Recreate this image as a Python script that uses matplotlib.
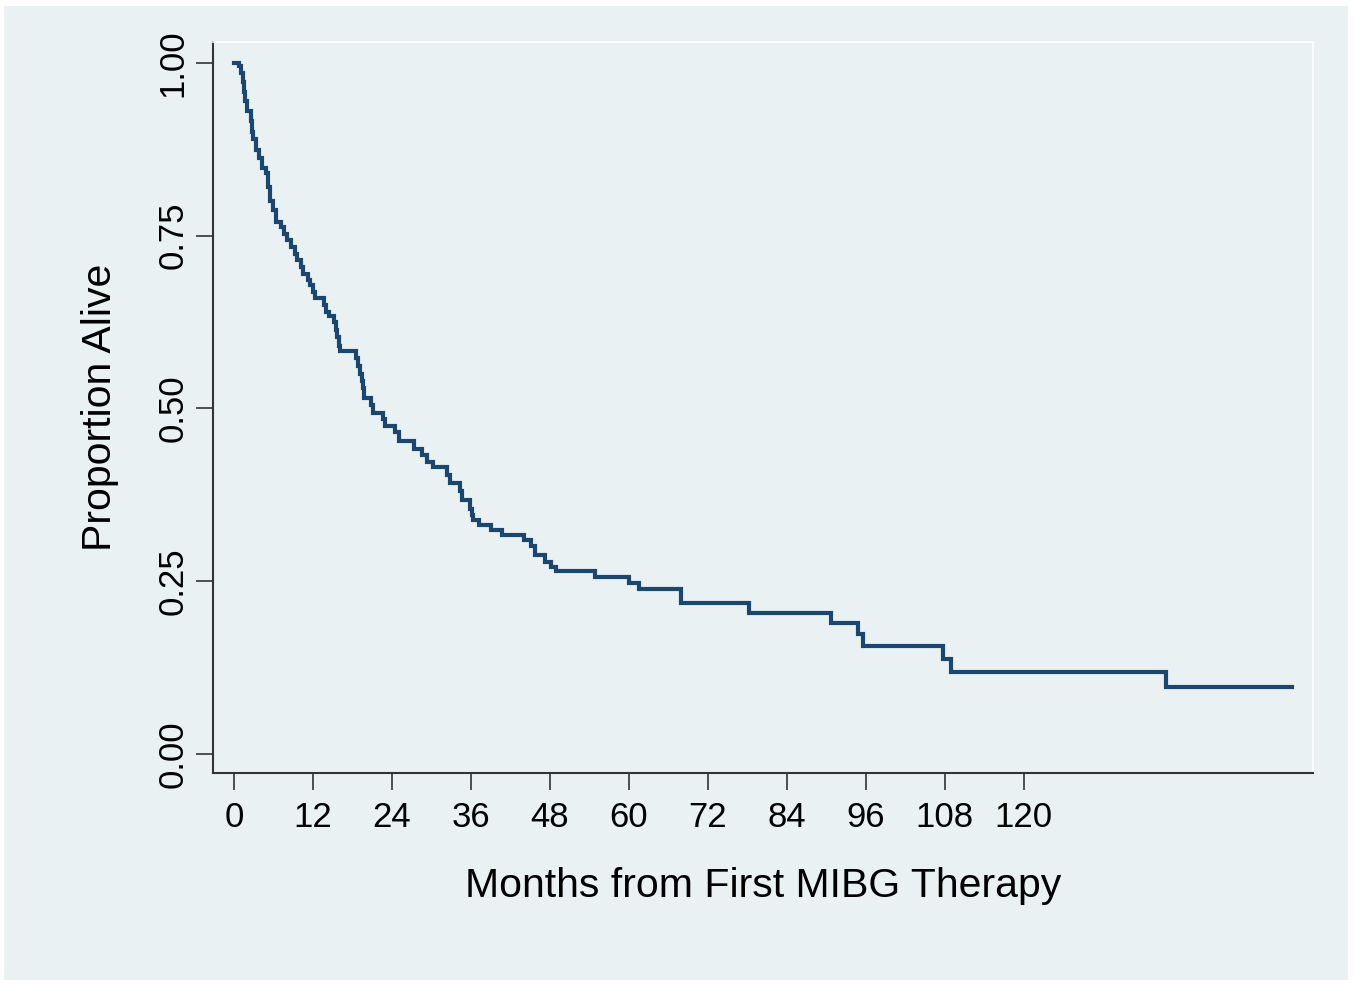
"""
Kaplan-Meier survival curve after first MIBG therapy (Stata s2color look).
"""

import matplotlib
matplotlib.use("Agg")
import matplotlib.pyplot as plt
from matplotlib.patches import Rectangle

# step times (months) and survival after each step
event_months = [0.0, 0.8, 1.1, 1.3, 1.5, 1.7, 1.9, 2.5, 2.7, 2.9, 3.3, 3.8, 4.3,
                4.8, 5.2, 5.4, 5.9, 6.4, 7.2, 7.6, 8.0, 8.6, 9.2, 9.5, 10.2,
                10.5, 11.2, 11.5, 12.0, 12.3, 13.6, 14.0, 14.4, 15.2, 15.5,
                15.7, 15.9, 16.1, 18.5, 18.8, 19.1, 19.4, 19.6, 19.8, 20.8,
                21.1, 22.6, 23.0, 24.5, 25.0, 27.3, 28.6, 29.3, 30.2, 32.4,
                32.8, 34.4, 34.6, 35.9, 36.1, 36.3, 37.2, 39.1, 40.8, 44.0,
                45.2, 45.8, 47.3, 48.2, 48.9, 54.9, 60.0, 61.5, 68.0, 78.3,
                90.7, 94.8, 95.6, 107.7, 108.9, 141.7, 160.8]
surv = [1.0, 0.995, 0.985, 0.972, 0.958, 0.944, 0.93, 0.915, 0.9, 0.889, 0.874,
        0.862, 0.848, 0.84, 0.82, 0.80, 0.787, 0.77, 0.763, 0.752, 0.744,
        0.734, 0.724, 0.714, 0.705, 0.694, 0.685, 0.678, 0.668, 0.66, 0.65,
        0.64, 0.633, 0.625, 0.614, 0.603, 0.59, 0.583, 0.573, 0.562, 0.55,
        0.54, 0.53, 0.515, 0.505, 0.494, 0.485, 0.475, 0.466, 0.453, 0.441,
        0.433, 0.422, 0.415, 0.404, 0.392, 0.38, 0.367, 0.355, 0.346, 0.338,
        0.331, 0.324, 0.317, 0.31, 0.301, 0.288, 0.278, 0.271, 0.264, 0.256,
        0.248, 0.239, 0.218, 0.204, 0.19, 0.174, 0.156, 0.137, 0.118, 0.097,
        0.097]

x_ticks = [0, 12, 24, 36, 48, 60, 72, 84, 96, 108, 120]
y_ticks = [0.0, 0.25, 0.5, 0.75, 1.0]
y_tick_labels = ["0.00", "0.25", "0.50", "0.75", "1.00"]

bg = "#e9f1f3"
line_col = "#1a476f"

plt.rcParams["font.family"] = ["Liberation Sans", "DejaVu Sans"]

fig = plt.figure(figsize=(13.55, 9.84), dpi=100, facecolor="white")
fig.patches.append(Rectangle((4 / 1355, 4 / 984), 1344 / 1355, 974 / 984,
                             transform=fig.transFigure, facecolor=bg,
                             edgecolor="none", zorder=-10))
ax = fig.add_axes([213 / 1355, 211 / 984, 1100 / 1355, 731 / 984])
ax.set_facecolor(bg)

ax.step(event_months, surv, where="post", color=line_col, lw=3.0,
        solid_joinstyle="miter")

ax.set_xlim(-3.2, 164)
ax.set_ylim(-0.0275, 1.03)
ax.set_xticks(x_ticks)
ax.set_yticks(y_ticks)
ax.set_yticklabels(y_tick_labels, rotation=90, va="center")

ax.tick_params(axis="both", direction="out", length=12, width=1.2,
               color="#333333", labelsize=25, labelcolor="black")
ax.tick_params(axis="x", pad=8)
ax.tick_params(axis="y", pad=5)

for side in ["left", "bottom"]:
    ax.spines[side].set_color("#333333")
    ax.spines[side].set_linewidth(1.5)
for side in ["top", "right"]:
    ax.spines[side].set_color("white")
    ax.spines[side].set_linewidth(1.2)

ax.set_xlabel("Months from First MIBG Therapy", fontsize=29.5, labelpad=24)
ax.set_ylabel("Proportion Alive", fontsize=29.5, labelpad=27)

fig.savefig("out.png", dpi=100, facecolor="white")
